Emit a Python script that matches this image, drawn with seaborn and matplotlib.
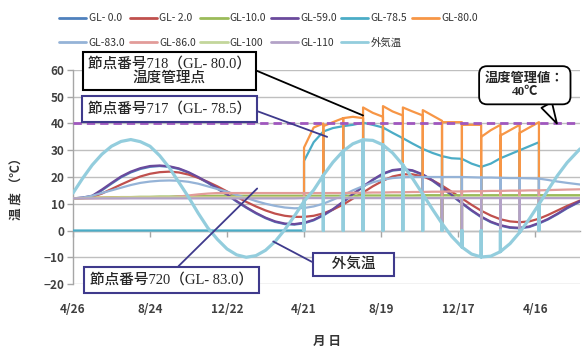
import numpy as np
import pandas as pd
import matplotlib
matplotlib.use("Agg")
import matplotlib.pyplot as plt
from matplotlib.lines import Line2D
import seaborn as sns

# ---- data: days counted from 4/26 of the first year ----
days = [0, 15, 30, 45, 60, 75, 90, 105, 120, 135, 150, 165, 180, 195, 210, 225,
        240, 255, 270, 285, 300, 315, 330, 345,
        360, 375, 390, 405, 421, 436, 452, 467, 483, 498, 514, 529, 545, 560,
        575, 590, 606, 621, 636, 651, 666, 681, 696, 711, 726, 740, 755, 770, 790]

# days on which every node recorded a zero reading (monthly restarts while heating)
reset_days = [360, 390, 421, 452, 483, 514, 545, 575, 606, 636, 666, 696, 726]

tick_days = [0, 120, 240, 360, 480, 600, 720]
tick_labels = ["4/26", "8/24", "12/22", "4/21", "8/19", "12/17", "4/16"]

gl_0 = [12, 12.2, 12.8, 15, 17.5, 19.9, 21.7, 23, 23.8, 24.1, 23.8, 23, 21.6, 19.8, 17.8, 15.6,
        13.3, 10.8, 8.5, 6.4, 4.6, 3.2, 2.4, 2.2,
        2.7, 3.8, 5.6, 7.8, 10.6, 13.4, 16.3, 18.8, 21.1, 22.4, 22.8, 22.3, 20.8, 18.6,
        16, 13.1, 10.1, 7.4, 5, 3.1, 1.8, 1, 0.8, 1.3, 2.6, 4.1, 6.1, 8.3, 10.8]
gl_2 = [12, 12.1, 12.6, 13.8, 15.5, 17.2, 18.8, 20.2, 21.2, 21.8, 22, 21.7, 20.9, 19.7, 18.2, 16.5,
        14.6, 12.6, 10.7, 9, 7.5, 6.3, 5.5, 5.1,
        5.1, 5.5, 6.4, 7.8, 9.7, 11.9, 14.2, 16.5, 18.6, 20.2, 21, 21, 20.2, 18.8,
        16.8, 14.5, 12, 9.6, 7.4, 5.6, 4.2, 3.4, 3.1, 3.4, 4.4, 5.8, 7.5, 9.2, 11.2]
gl_10 = [12, 12.1, 12.2, 12.3, 12.4, 12.5, 12.5, 12.6, 12.6, 12.7, 12.7, 12.8, 12.8, 12.9, 12.9, 13,
         13, 13, 13, 13, 13, 13, 13, 13,
         13, 13, 13, 13, 13, 13.1, 13.1, 13.1, 13.1, 13.1, 13.1, 13.1, 13.2, 13.2,
         13.2, 13.2, 13.2, 13.2, 13.2, 13.2, 13.2, 13.2, 13.2, 13.2, 13.2, 13.2, 13.2, 13.2, 13.2]
gl_59 = [12, 12.3, 13, 15.3, 17.8, 20.2, 22, 23.3, 24.1, 24.3, 24, 23.2, 21.8, 20, 18, 15.8,
         13.5, 11, 8.7, 6.6, 4.8, 3.4, 2.6, 2.4,
         2.9, 4, 5.8, 8, 10.8, 13.6, 16.5, 19, 21.3, 22.6, 23, 22.5, 21, 18.8,
         16.2, 13.3, 10.3, 7.6, 5.2, 3.3, 2, 1.2, 1, 1.5, 2.8, 4.3, 6.3, 8.5, 11]
gl_785 = [0, 0, 0, 0, 0, 0, 0, 0, 0, 0, 0, 0, 0, 0, 0, 0,
          0, 0, 0, 0, 0, 0, 0, 0,
          0, 33, 37, 38.3, 39, 39.5, 40.3, 39.5, 38.5, 36.5, 34.5, 32.5, 30.5, 29,
          27.8, 27, 26.8, 25, 23.8, 25, 27, 28.5, 30, 31.5, 33, np.nan, np.nan, np.nan, np.nan]
gl_785_restart = [26, 37, 39, 40.3, 38.5, 34.5, 30.5, 27.8, 26.8, 23.8, 27, 30, np.nan]
gl_80 = [12, 12.1, 12.2, 12.3, 12.3, 12.4, 12.4, 12.4, 12.4, 12.4, 12.4, 12.4, 12.4, 12.4, 12.4, 12.4,
         12.4, 12.4, 12.4, 12.4, 12.4, 12.4, 12.4, 12.4,
         12.4, 38.5, 40, 40.5, 42, 42.5, 42, 44, 42.5, 44.5, 43, 44.5, 43, 43,
         41, 40.5, 40.5, 39.5, 39.5, 37.5, 39.5, 37.5, 39.5, 38.5, 40.5, np.nan, np.nan, np.nan, np.nan]
gl_80_restart = [31, 39, 42, 46, 46.5, 46, 45, 40.5, 39.5, 35, 35.5, 36.5, np.nan]
gl_83 = [12, 12.3, 13, 14, 15, 16, 17, 17.8, 18.3, 18.6, 18.7, 18.6, 18.2, 17.5, 16.5, 15.5,
         14.5, 13.3, 12.2, 11, 10, 9.2, 8.6, 8.3,
         8.4, 9, 10, 11.5, 13.2, 15, 16.6, 18, 19, 19.6, 19.9, 20, 20, 20,
         20, 20, 20, 19.9, 19.8, 19.8, 19.7, 19.6, 19.6, 19.5, 19.4, 18.9, 18.3, 17.8, 17.2]
gl_86 = [12, 12, 12, 12.1, 12.1, 12.1, 12.2, 12.2, 12.2, 12.3, 12.4, 12.7, 13.1, 13.5, 13.8, 14,
         14, 14, 14, 14, 14, 14, 14, 14,
         14, 14, 14, 14, 14, 14.1, 14.1, 14.2, 14.2, 14.3, 14.3, 14.4, 14.4, 14.5,
         14.5, 14.6, 14.6, 14.7, 14.7, 14.8, 14.8, 14.9, 14.9, 15, 15, 15.1, 15.2, 15.3, 15.4]
gl_100 = [12, 12.1, 12.2, 12.3, 12.3, 12.4, 12.4, 12.4, 12.4, 12.4, 12.4, 12.4, 12.4, 12.4, 12.4, 12.4,
          12.4, 12.4, 12.4, 12.4, 12.4, 12.4, 12.4, 12.4,
          12.4, 12.4, 12.4, 12.4, 12.4, 12.4, 12.4, 12.4, 12.4, 12.4, 12.4, 12.4, 12.4, 12.4,
          12.4, 12.4, 12.4, 12.4, 12.4, 12.4, 12.4, 12.4, 12.4, 12.4, 12.4, 12.4, 12.4, 12.4, 12.4]
gl_110 = [12, 12, 12, 12, 12, 12, 12, 12, 12, 12, 12, 12, 12, 12, 12, 12,
          12, 12, 12, 12, 12, 12, 12, 12,
          12.1, 12.1, 12.1, 12.1, 12.1, 12.1, 12.1, 12.1, 12.1, 12.1, 12.1, 12.1, 12.1, 12.1,
          12.1, 12.1, 12.1, 12.1, 12.1, 12.1, 12.1, 12.1, 12.1, 12.1, 12.1, 12.1, 12.1, 12.1, 12.1]
air = [14, 19.5, 24.5, 28.5, 31.5, 33.3, 34, 33.2, 31.5, 28, 23.5, 18, 12.5, 6.5, 1, -3.3,
       -6.9, -9.1, -10, -9.4, -7.4, -4.1, 0.3, 5.4,
       10.9, 15.1, 20.6, 25.5, 29.7, 32.4, 33.9, 33.7, 32, 29, 24.5, 19.5, 13.6, 8,
       2.6, -2.2, -6.2, -8.8, -9.9, -9.6, -7.9, -4.9, -0.7, 4.3, 9.8, 15.1, 20.6, 25.4, 30.5]

limit_temp = 40

series = [
    ("GL- 0.0", gl_0, None, "#4F81BD", 1.6),
    ("GL- 2.0", gl_2, None, "#C0504D", 1.6),
    ("GL-10.0", gl_10, None, "#9BBB59", 1.6),
    ("GL-59.0", gl_59, None, "#6A4A9C", 1.6),
    ("GL-78.5", gl_785, gl_785_restart, "#4BACC6", 1.6),
    ("GL-80.0", gl_80, gl_80_restart, "#F79646", 1.6),
    ("GL-83.0", gl_83, None, "#95B3D7", 1.6),
    ("GL-86.0", gl_86, None, "#E29C99", 1.6),
    ("GL-100", gl_100, None, "#C3D69B", 1.6),
    ("GL-110", gl_110, None, "#B3A2C7", 1.6),
    ("外気温", air, None, "#93CDDD", 2.3),
]


def to_rows(name, values, restart):
    rows = []
    for d, v in zip(days, values):
        if d in reset_days:
            after = v if restart is None else restart[reset_days.index(d)]
            rows += [(name, d, v), (name, d, 0.0), (name, d, after)]
        else:
            rows.append((name, d, v))
    return rows


records = []
for name, vals, restart, _, _ in series:
    records += to_rows(name, vals, restart)
df = pd.DataFrame(records, columns=["node", "day", "temp"])

sns.set_theme(style="white")
plt.rcParams["font.family"] = ["Noto Sans CJK JP", "DejaVu Sans"]

W, H = 584, 347
fig = plt.figure(figsize=(W / 100, H / 100), dpi=100)
ax = fig.add_axes([73 / W, 1 - 284 / H, 507 / W, 214 / H])

for name, _, _, color, lw in series:
    sub = df[df["node"] == name]
    sns.lineplot(data=sub, x="day", y="temp", sort=False, estimator=None,
                 color=color, lw=lw, ax=ax, legend=False, zorder=3)

ax.axhline(limit_temp, color="#A057BE", lw=2, ls=(0, (3, 1.8)), zorder=4)

ax.set_xlim(0, 790)
ax.set_ylim(-20, 60)
ax.set_yticks(range(-20, 61, 10))
ax.set_xticks(tick_days)
ax.set_xticklabels(tick_labels)
ax.set_axisbelow(True)
ax.yaxis.grid(True, color="#BFBFBF", lw=1)
ax.xaxis.grid(False)
for s in ["top", "right", "bottom"]:
    ax.spines[s].set_visible(False)
ax.spines["left"].set_color("#A6A6A6")
ax.spines["left"].set_linewidth(1)
ax.tick_params(axis="x", length=0, pad=14, labelsize=8.5, labelcolor="#404040")
ax.tick_params(axis="y", length=4, width=1, color="#A6A6A6", pad=2, labelsize=8.5,
               labelcolor="#404040", left=True)
for lab in ax.get_xticklabels() + ax.get_yticklabels():
    lab.set_fontweight("bold")

# category axis crossing at zero
sec = ax.secondary_xaxis(0.25)
sec.set_xticks(tick_days)
sec.set_xticklabels([])
sec.tick_params(axis="x", length=4, width=1, color="#A6A6A6", direction="out")
sec.spines["bottom"].set_color("#A6A6A6")
sec.spines["bottom"].set_linewidth(1)

ax.set_xlabel("月 日", fontsize=9, fontweight="bold", color="#333333")
ax.xaxis.set_label_coords(0.5, -0.24)
ax.set_ylabel("温 度 （℃）", fontsize=9, fontweight="bold", color="#333333")
ax.yaxis.set_label_coords(-0.1, 0.46)

# legend laid out row by row
handles = [Line2D([], [], color=c, lw=2) for _, _, _, c, _ in series]
labels = [n for n, _, _, _, _ in series]
order = [0, 6, 1, 7, 2, 8, 3, 9, 4, 10, 5]
fig.legend([handles[i] for i in order], [labels[i] for i in order],
           loc="upper left", bbox_to_anchor=(50 / W, 1 - 4 / H), ncol=6, frameon=False,
           fontsize=7.5, handlelength=2.6, handletextpad=0.2, columnspacing=0.45,
           labelspacing=1.4, labelcolor="#333333")

box_font = ["Liberation Serif", "Noto Sans CJK JP"]
purple = "#3F3A8C"

ax.annotate("節点番号718（GL- 80.0）\n温度管理点", xy=(452, 43), xytext=(150, 59.6),
            ha="center", va="center", multialignment="center", fontsize=10.5,
            family=box_font, fontweight="medium", annotation_clip=False, zorder=6,
            linespacing=1.05,
            bbox=dict(boxstyle="square,pad=0.35", fc="white", ec="black", lw=1.5),
            arrowprops=dict(arrowstyle="-", color="black", lw=1.3, shrinkA=0, shrinkB=0,
                            relpos=(1, 0.6)))
ax.annotate("節点番号717（GL- 78.5）", xy=(396, 35), xytext=(150, 45.5),
            ha="center", va="center", fontsize=10.5, family=box_font,
            fontweight="medium", annotation_clip=False, zorder=6,
            bbox=dict(boxstyle="square,pad=0.4", fc="white", ec=purple, lw=1.5),
            arrowprops=dict(arrowstyle="-", color=purple, lw=1.3, shrinkA=0, shrinkB=0,
                            relpos=(1, 0.5)))
ax.annotate("節点番号720（GL- 83.0）", xy=(287, 15.7), xytext=(154, -18.4),
            ha="center", va="center", fontsize=10.5, family=box_font,
            fontweight="medium", annotation_clip=False, zorder=6,
            bbox=dict(boxstyle="square,pad=0.4", fc="white", ec=purple, lw=1.5),
            arrowprops=dict(arrowstyle="-", color=purple, lw=1.3, shrinkA=0, shrinkB=0,
                            relpos=(0.5, 1)))
ax.annotate("\u3000外気温\u3000", xy=(312, -4.1), xytext=(437, -12.7),
            ha="center", va="center", fontsize=10.5, family=box_font,
            fontweight="medium", annotation_clip=False, zorder=6,
            bbox=dict(boxstyle="square,pad=0.3", fc="white", ec=purple, lw=1.5),
            arrowprops=dict(arrowstyle="-", color=purple, lw=1.3, shrinkA=0, shrinkB=0,
                            relpos=(0, 0.5)))
ax.annotate("温度管理値：\n40℃", xy=(754, limit_temp), xytext=(704, 54.3),
            ha="center", va="center", multialignment="center", fontsize=9.5,
            fontweight="bold", family=box_font, annotation_clip=False, zorder=6,
            bbox=dict(boxstyle="round,pad=0.45,rounding_size=0.6", fc="white",
                      ec="black", lw=1.3),
            arrowprops=dict(arrowstyle="wedge,tail_width=0.9,shrink_factor=0.5",
                            fc="white", ec="black", lw=1.3, shrinkA=0, shrinkB=0,
                            relpos=(0.72, 0.05)))

fig.savefig("out.png", dpi=100)
